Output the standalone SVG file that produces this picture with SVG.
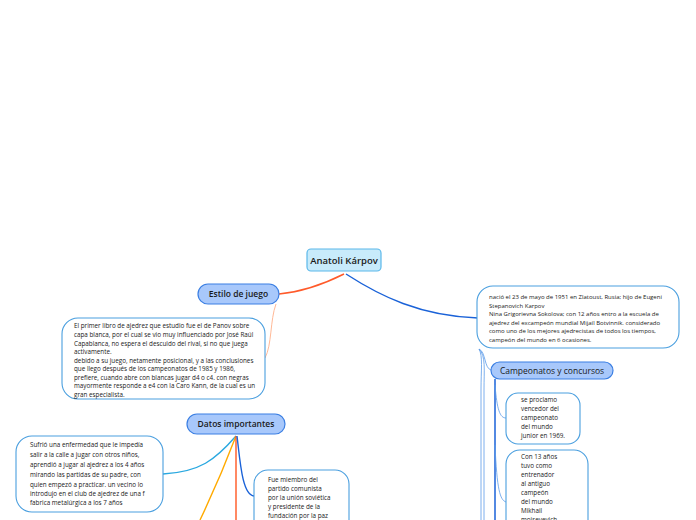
<svg xmlns="http://www.w3.org/2000/svg" width="696" height="520" viewBox="0 0 696 520">
<style>
text{font-family:"Open Sans","Noto Sans","Liberation Sans",sans-serif;fill:#1a1a1a}
.main rect{fill:#c8ebfb;stroke:#5bb8ea;stroke-width:1.2}
.main text{font-size:9.5px;font-weight:600}
.sub rect{fill:#a8c8fb;stroke:#3b7fe3;stroke-width:1.2}
.sub text{font-size:8.5px;font-weight:600}
.note rect{fill:#fff;stroke:#4a9fdf;stroke-width:1.1}
.note text{font-size:6.3px}
.note .s{font-size:6px}
.c{fill:none}
</style>
<g id="connectors">
<path class="c" d="M344 274 C320 286 300 292 279 294" stroke="#ff5a2a" stroke-width="1.4"/>
<path class="c" d="M346 274 C380 296 420 316 478 318" stroke="#1a62d8" stroke-width="1.4"/>
<path class="c" d="M276 304 C270 320 272 345 265 358" stroke="#ffb08a" stroke-width="0.9"/>
<path class="c" d="M479 349 C486 352 484 368 491 370" stroke="#5b9be8" stroke-width="0.8"/>
<path class="c" d="M479 349 C483 356 481 370 481 390 L481 520" stroke="#5b9be8" stroke-width="0.8"/>
<path class="c" d="M479 349 C486 356 484 370 484 390 L484 520" stroke="#5b9be8" stroke-width="0.8"/>
<path class="c" d="M495 379 L495 520" stroke="#1a62d8" stroke-width="1.5"/>
<path class="c" d="M495 385 C497 410 500 418 506 418" stroke="#5b9be8" stroke-width="0.8"/>
<path class="c" d="M495 445 C497 490 500 500 506 502" stroke="#5b9be8" stroke-width="0.8"/>
<path class="c" d="M236 436 C215 460 200 472 163 474" stroke="#29a8e0" stroke-width="1.4"/>
<path class="c" d="M236 436 C225 465 212 495 200 520" stroke="#ffaa00" stroke-width="1.4"/>
<path class="c" d="M236 436 L236 520" stroke="#ff5722" stroke-width="1.4"/>
<path class="c" d="M237 436 C240 460 242 495 254 496" stroke="#1a62d8" stroke-width="1.4"/>
</g>
<g id="center" class="main">
<rect x="307" y="249" width="74" height="22" rx="4"/>
<text x="344" y="263.5" text-anchor="middle">Anatoli Kárpov</text>
</g>
<g id="estilo" class="sub">
<rect x="198" y="284" width="81" height="20" rx="10"/>
<text x="238.5" y="297" text-anchor="middle">Estilo de juego</text>
</g>
<g id="estilo-nota" class="note">
<rect x="62" y="318" width="203" height="81" rx="16"/>
<text x="74" y="328">El primer libro de ajedrez que estudio fue el de Panov sobre</text>
<text x="74" y="337">capa blanca, por el cual se vio muy influenciado por José Raúl</text>
<text x="74" y="345.5">Capablanca, no espera el descuido del rival, si no que juega</text>
<text x="74" y="354">activamente.</text>
<text x="74" y="362.5">debido a su juego, netamente posicional, y a las conclusiones</text>
<text x="74" y="371">que llego después de los campeonatos de 1985 y 1986,</text>
<text x="74" y="379.5">prefiere, cuando abre con blancas jugar d4 o c4. con negras</text>
<text x="74" y="388">mayormente responde a e4 con la Caro Kann, de la cual es un</text>
<text x="74" y="396.5">gran especialista.</text>
</g>
<g id="bio" class="note">
<rect x="477" y="286" width="202" height="62" rx="16"/>
<text class="s" x="489" y="299">nació el 23 de mayo de 1951 en Zlatoust, Rusia; hijo de Eugeni</text>
<text class="s" x="489" y="307.5">Stepanovich Karpov</text>
<text class="s" x="489" y="316">Nina Grigorievna Sokolova; con 12 años entro a la escuela de</text>
<text class="s" x="489" y="324.5">ajedrez del excampeón mundial Mijaíl Botvinnik. considerado</text>
<text class="s" x="489" y="333">como uno de los mejores ajedrecistas de todos los tiempos,</text>
<text class="s" x="489" y="341.5">campeón del mundo en 6 ocasiones.</text>
</g>
<g id="campeonatos" class="sub">
<rect x="491" y="362" width="122" height="17" rx="8.5"/>
<text x="552" y="373.5" text-anchor="middle" style="font-weight:400">Campeonatos y concursos</text>
</g>
<g id="junior" class="note">
<rect x="506" y="393" width="74" height="51" rx="12"/>
<text x="521" y="402">se proclamo</text>
<text x="521" y="411">vencedor del</text>
<text x="521" y="420">campeonato</text>
<text x="521" y="429">del mundo</text>
<text x="521" y="438">junior en 1969.</text>
</g>
<g id="entrenador" class="note">
<rect x="506" y="450" width="82" height="90" rx="14"/>
<text x="521" y="459">Con 13 años</text>
<text x="521" y="468">tuvo como</text>
<text x="521" y="477">entrenador</text>
<text x="521" y="486">al antiguo</text>
<text x="521" y="494.5">campeón</text>
<text x="521" y="503.5">del mundo</text>
<text x="521" y="512.5">Mikhail</text>
<text x="521" y="522">moiseyevich</text>
</g>
<g id="datos" class="sub">
<rect x="187" y="414" width="98" height="20" rx="10"/>
<text x="236" y="427" text-anchor="middle">Datos importantes</text>
</g>
<g id="infancia" class="note">
<rect x="16" y="436" width="147" height="76" rx="16"/>
<text x="30" y="447">Sufrió una enfermedad que le impedía</text>
<text x="30" y="457">salir a la calle a jugar con otros niños,</text>
<text x="30" y="467">aprendió a jugar al ajedrez a los 4 años</text>
<text x="30" y="477">mirando las partidas de su padre, con</text>
<text x="30" y="487"> quien empezó a practicar. un vecino lo</text>
<text x="30" y="496">introdujo en el club de ajedrez de una f</text>
<text x="30" y="505">fabrica metalúrgica a los 7 años</text>
</g>
<g id="partido" class="note">
<rect x="254" y="470" width="95" height="70" rx="14"/>
<text x="268" y="482">Fue miembro del</text>
<text x="268" y="491">partido comunista</text>
<text x="268" y="500">por la unión soviética</text>
<text x="268" y="509">y presidente de la</text>
<text x="268" y="518">fundación por la paz</text>
</g>
</svg>
